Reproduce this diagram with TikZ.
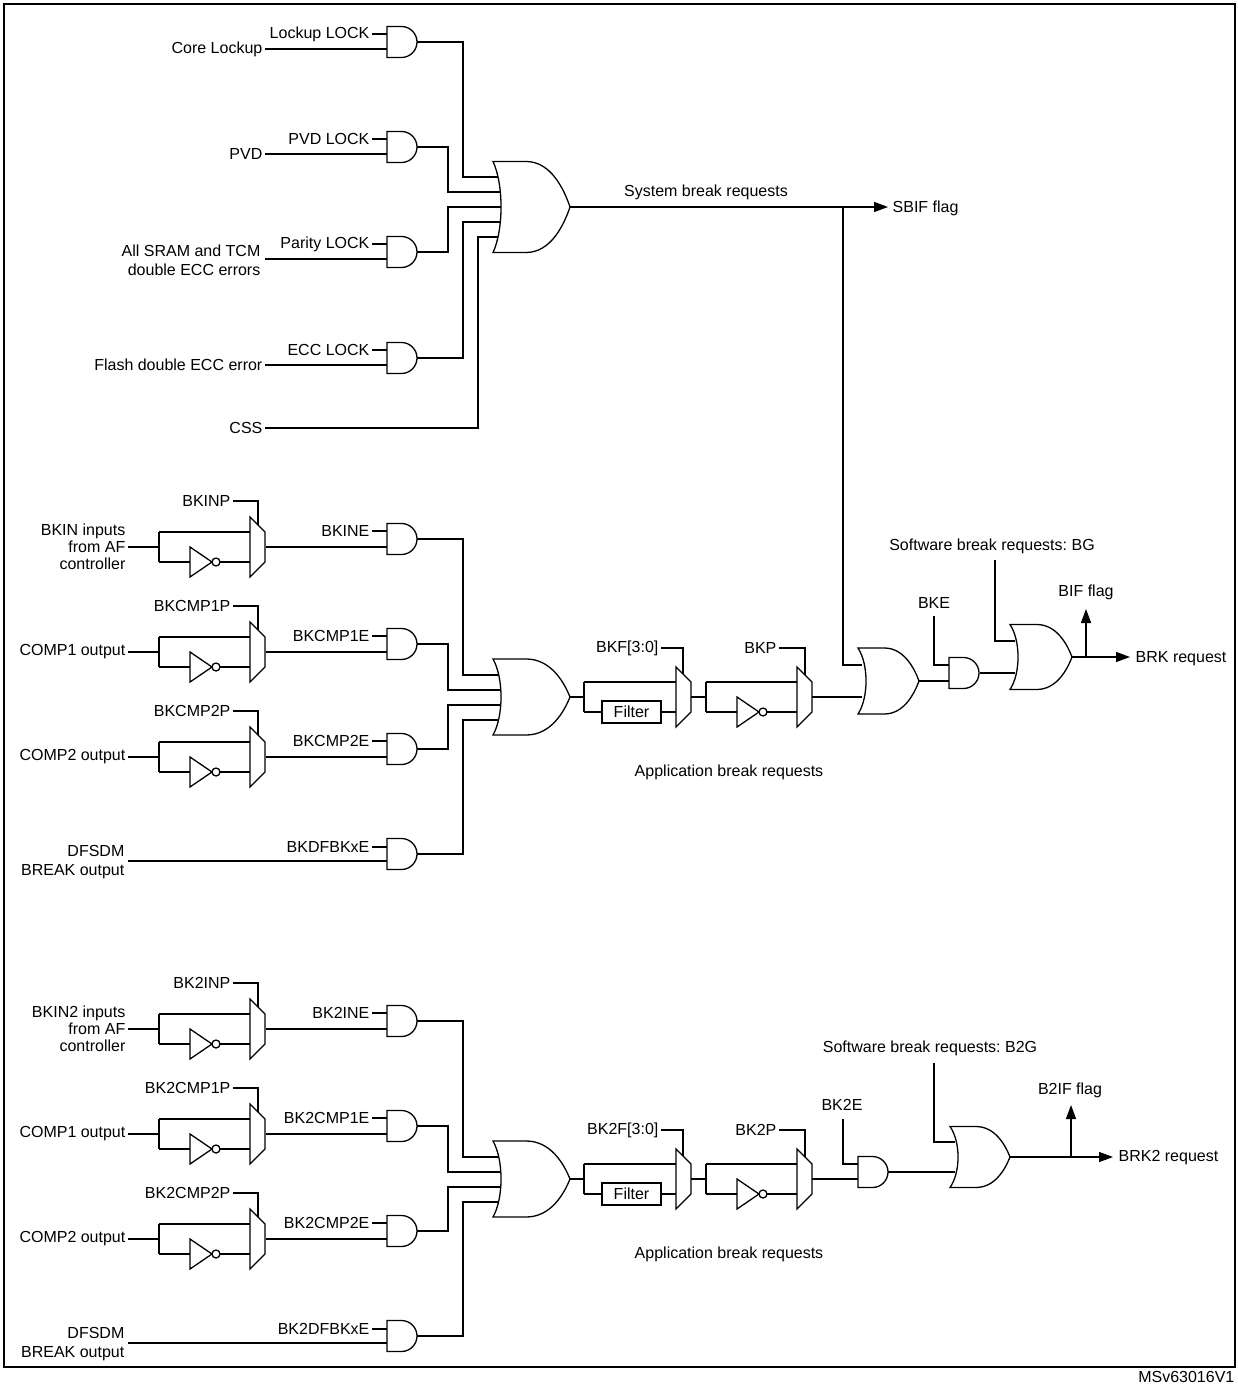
\documentclass[tikz,border=0pt]{standalone}
\usepackage{fontspec}
\setmainfont{Liberation Sans}
\usetikzlibrary{arrows.meta}
\frenchspacing

% gate shapes, x/y in pixels of the drawing, y downwards
\newcommand{\andgate}[2]{%
  \draw (#1,#2-15.5) -- (#1+14.5,#2-15.5) .. controls (#1+23,#2-15.5) and (#1+30,#2-8.5) .. (#1+30,#2)
    .. controls (#1+30,#2+8.5) and (#1+23,#2+15.5) .. (#1+14.5,#2+15.5) -- (#1,#2+15.5) -- cycle;}
\newcommand{\orgate}[4]{%
  \draw (#1,#2-#4/2) -- (#1+0.43*#3,#2-#4/2) .. controls (#1+0.75*#3,#2-#4/2) and (#1+0.92*#3,#2-#4/5) .. (#1+#3,#2)
    .. controls (#1+0.92*#3,#2+#4/5) and (#1+0.75*#3,#2+#4/2) .. (#1+0.43*#3,#2+#4/2) -- (#1,#2+#4/2)
    .. controls (#1+10.7,#2+#4/4) and (#1+10.7,#2-#4/4) .. (#1,#2-#4/2) -- cycle;}
\newcommand{\muxbox}[2]{%
  \draw (#1,#2-30) -- (#1+15,#2-15) -- (#1+15,#2+15) -- (#1,#2+30) -- cycle;}
\newcommand{\notgate}[2]{%
  \draw (#1,#2-15) -- (#1+22,#2) -- (#1,#2+15) -- cycle;
  \draw (#1+26,#2) circle (2pt);}

% one application break path: shift, prefix, input name
\newcommand{\appblock}[3]{%
\begin{scope}[shift={(0,#1)}]
% selectable inputs
\foreach \m/\lab/\en in {547/INP/INE, 652/CMP1P/CMP1E, 757/CMP2P/CMP2E} {
  \muxbox{250}{\m}
  \notgate{190}{\m+15}
  \draw (128,\m) -- (159,\m) (159,\m-15) -- (159,\m+15);
  \draw (159,\m-15) -- (250,\m-15) (159,\m+15) -- (190,\m+15) (220,\m+15) -- (250,\m+15);
  \node[lbl, anchor=east] at (233,\m-46) {#2\lab};
  \draw (233,\m-46) -- (258,\m-46) -- (258,\m-22);
  \andgate{387}{\m-8}
  \draw (266,\m) -- (387,\m);
  \node[lbl, anchor=east] at (372,\m-16) {#2\en};
  \draw (372,\m-16) -- (387,\m-16);
}
\node[lbl, anchor=east, align=right] at (128,547) {#3 inputs\\from AF\\controller};
\node[lbl, anchor=east] at (128,652) {COMP1 output};
\node[lbl, anchor=east] at (128,757) {COMP2 output};
\andgate{387}{854}
\node[lbl, anchor=east] at (372,847) {#2DFBKxE};
\draw (372,847) -- (387,847);
\node[lbl, anchor=east, align=right] at (127,862) {DFSDM\\[1pt]BREAK output};
\draw (128,861) -- (387,861);
% OR of the four enables
\orgate{493}{697}{77}{76}
\draw (417,539) -- (463,539) -- (463,675) -- (499,675);
\draw (417,644) -- (448,644) -- (448,690) -- (501,690);
\draw (417,749) -- (448,749) -- (448,705) -- (501,705);
\draw (417,854) -- (463,854) -- (463,720) -- (499,720);
% filter and polarity
\draw (570,697) -- (584,697) (584,682) -- (584,712);
\draw (584,682) -- (676,682) (584,712) -- (602,712) (661,712) -- (676,712);
\node[draw, lbl, minimum width=29.5pt, minimum height=11pt, inner sep=0pt] (filt) at (631.5,712) {Filter};
\muxbox{676}{697}
\node[lbl, anchor=east] at (661,648) {#2F[3:0]};
\draw (661,648) -- (683,648) -- (683,674);
\draw (691,697) -- (706,697) (706,682) -- (706,712);
\draw (706,682) -- (797,682) (706,712) -- (737,712) (767,712) -- (797,712);
\notgate{737}{712}
\muxbox{797}{697}
\node[lbl, anchor=east] at (779,648) {#2P};
\draw (779,648) -- (805,648) -- (805,675);
\node[lbl] at (729,772) {Application break requests};
\end{scope}}

\begin{document}
\begin{tikzpicture}[x=0.5pt, y=-0.5pt, line width=0.65pt,
  lbl/.style={font=\fontsize{8}{8.5}\selectfont, inner sep=1pt},
  flag/.style={-{Triangle[length=7pt,width=5pt]}}]
\useasboundingbox (0,0) rectangle (1237,1384);
\draw (4,4) rectangle (1235,1367);

% system break inputs
\foreach \c/\lk in {42/Lockup LOCK, 147/PVD LOCK, 252/Parity LOCK, 358/ECC LOCK} {
  \andgate{387}{\c}
  \node[lbl, anchor=east] at (372,\c-8) {\lk};
  \draw (372,\c-8) -- (387,\c-8) (265,\c+7) -- (387,\c+7);
}
\node[lbl, anchor=east] at (265,49) {Core Lockup};
\node[lbl, anchor=east] at (265,154) {PVD};
\node[lbl, anchor=east, align=right] at (263,260) {All SRAM and TCM\\[1pt]double ECC errors};
\node[lbl, anchor=east] at (265,365) {Flash double ECC error};
\node[lbl, anchor=east] at (265,428) {CSS};
\orgate{493}{207}{77}{91}
\draw (417,42) -- (463,42) -- (463,177) -- (498,177);
\draw (417,147) -- (448,147) -- (448,192) -- (500,192);
\draw (417,252) -- (448,252) -- (448,207) -- (501,207);
\draw (417,358) -- (463,358) -- (463,222) -- (500,222);
\draw (265,428) -- (478,428) -- (478,237) -- (498,237);
\draw[flag] (570,207) -- (888,207);
\node[lbl, anchor=west] at (890,208) {SBIF flag};
\node[lbl] at (706,192) {System break requests};

% break 1
\appblock{0}{BK}{BKIN}
\orgate{858}{681}{61}{66}
\draw (843,207) -- (843,665) -- (862,665);
\draw (812,697) -- (862,697);
\andgate{949}{673}
\draw (919,681) -- (949,681);
\draw (934,616) -- (934,665) -- (949,665);
\node[lbl] at (934,603) {BKE};
\orgate{1010}{657}{62}{65}
\draw (980,673) -- (1015,673);
\draw (995,560) -- (995,641) -- (1015,641);
\node[lbl] at (992,546) {Software break requests: BG};
\draw[flag] (1072,657) -- (1130,657);
\draw[flag] (1086,657) -- (1086,609);
\node[lbl] at (1086,592) {BIF flag};
\node[lbl, anchor=west] at (1133,659) {BRK request};

% break 2
\appblock{482}{BK2}{BKIN2}
\andgate{858}{1172}
\draw (812,1179) -- (858,1179);
\draw (843,1119) -- (843,1164) -- (858,1164);
\node[lbl] at (842,1105) {BK2E};
\orgate{950}{1157}{60}{61}
\draw (888,1172) -- (955,1172);
\draw (934,1063) -- (934,1142) -- (955,1142);
\node[lbl] at (930,1048) {Software break requests: B2G};
\draw[flag] (1010,1157) -- (1113,1157);
\draw[flag] (1071,1157) -- (1071,1105);
\node[lbl] at (1070,1090) {B2IF flag};
\node[lbl, anchor=west] at (1116,1158) {BRK2 request};

\node[lbl, anchor=east] at (1237,1377) {MSv63016V1};
\end{tikzpicture}
\end{document}
